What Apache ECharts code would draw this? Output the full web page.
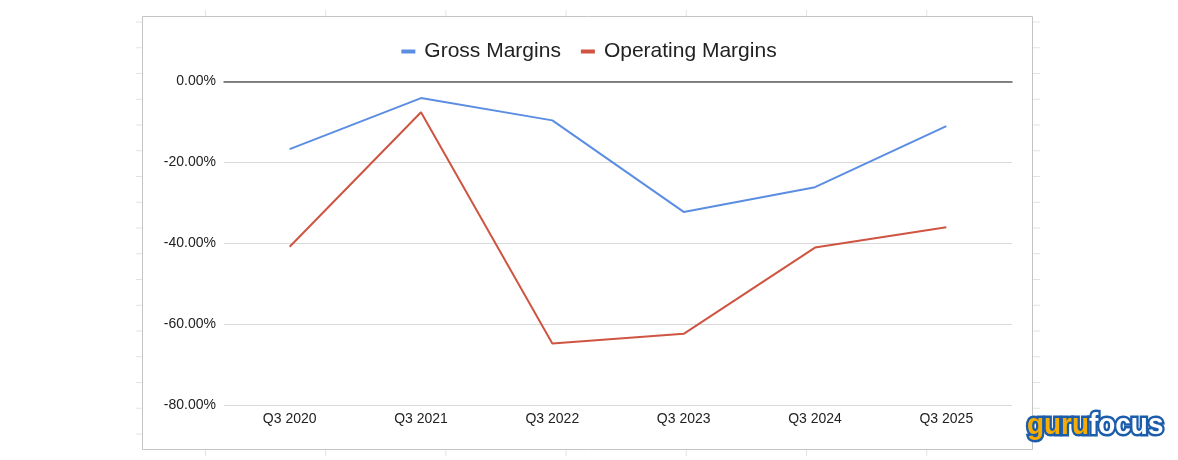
<!DOCTYPE html>
<html>
<head>
<meta charset="utf-8">
<script src="https://cdn.jsdelivr.net/npm/echarts@6/dist/echarts.min.js"></script>
<style>
html,body{margin:0;padding:0;background:#fff;}
#chart{width:1178px;height:460px;}
</style>
</head>
<body>
<div id="chart"></div>
<script>
const categories = ['Q3 2020','Q3 2021','Q3 2022','Q3 2023','Q3 2024','Q3 2025'];
const grossMargins = [-16.7, -4.1, -9.6, -32.2, -26.1, -11.0];
const operatingMargins = [-40.8, -7.6, -64.7, -62.3, -41.0, -36.0];
const yTicks = {min: -80, max: 0, interval: 20};

const chart = echarts.init(document.getElementById('chart'), null, {renderer: 'canvas'});

// decorative spreadsheet cell ticks around the chart frame
const deco = [];
const tickColor = '#e3e3e3';
for (let k = 0; k <= 16; k++) {
  const y = 22 + 25.75 * k;
  deco.push({type: 'line', shape: {x1: 136, y1: y, x2: 142, y2: y}, style: {stroke: tickColor, lineWidth: 1}, silent: true});
  deco.push({type: 'line', shape: {x1: 1033, y1: y, x2: 1040, y2: y}, style: {stroke: tickColor, lineWidth: 1}, silent: true});
}
for (let k = 0; k < 7; k++) {
  const x = 205.5 + 120.2 * k;
  deco.push({type: 'line', shape: {x1: x, y1: 10, x2: x, y2: 16}, style: {stroke: tickColor, lineWidth: 1}, silent: true});
  deco.push({type: 'line', shape: {x1: x, y1: 450, x2: x, y2: 456}, style: {stroke: tickColor, lineWidth: 1}, silent: true});
}
deco.push({type: 'rect', shape: {x: 142.5, y: 16.5, width: 890, height: 433}, style: {fill: 'none', stroke: '#c4c4c4', lineWidth: 1}, silent: true});
const logoFont = '"Liberation Sans", Arial, sans-serif';
deco.push({
  type: 'group', x: 1027, y: 441, scaleX: 0.93, z: 10,
  children: [{
    type: 'text',
    style: {
      x: 0, y: 0,
      verticalAlign: 'bottom',
      rich: {
        g: {fill: '#f6ac00', stroke: '#1b5cab', lineWidth: 5, fontSize: 30, lineHeight: 30, fontWeight: 'bold', fontFamily: logoFont},
        f: {fill: '#ffffff', stroke: '#1b5cab', lineWidth: 5, fontSize: 30, lineHeight: 30, fontWeight: 'bold', fontFamily: logoFont}
      },
      text: '{g|guru}{f|focus}'
    }
  }]
});

const font = '"Liberation Sans", Arial, sans-serif';

chart.setOption({
  animation: false,
  backgroundColor: '#ffffff',
  graphic: deco,
  legend: {
    left: 'center',
    top: 36,
    itemWidth: 14,
    itemHeight: 4,
    itemGap: 20,
    icon: 'rect',
    textStyle: {fontSize: 21, color: '#222', fontFamily: font, padding: [0, 0, 0, 4]},
    data: ['Gross Margins', 'Operating Margins']
  },
  grid: {left: 224, right: 166, top: 81.5, bottom: 54.5, containLabel: false},
  xAxis: [{
    type: 'category',
    data: categories,
    boundaryGap: true,
    position: 'bottom',
    axisLine: {show: false, onZero: false},
    axisTick: {show: false},
    axisLabel: {fontSize: 14, color: '#222', fontFamily: font, margin: 7}
  }, {
    type: 'category',
    data: categories,
    position: 'top',
    axisLine: {show: true, onZero: false, lineStyle: {color: '#5f5f5f', width: 1.5}},
    axisTick: {show: false},
    axisLabel: {show: false}
  }],
  yAxis: {
    type: 'value',
    min: yTicks.min,
    max: yTicks.max,
    interval: yTicks.interval,
    axisLine: {show: false},
    axisTick: {show: false},
    splitLine: {lineStyle: {color: '#d9d9d9', width: 1}},
    axisLabel: {fontSize: 14, color: '#222', fontFamily: font, margin: 8, formatter: v => v.toFixed(2) + '%'}
  },
  series: [{
    name: 'Gross Margins',
    type: 'line',
    data: grossMargins,
    symbol: 'none',
    lineStyle: {width: 2, color: '#5b8ee3'},
    itemStyle: {color: '#5b8ee3'}
  }, {
    name: 'Operating Margins',
    type: 'line',
    data: operatingMargins,
    symbol: 'none',
    lineStyle: {width: 2, color: '#cf5442'},
    itemStyle: {color: '#cf5442'}
  }]
});
</script>
</body>
</html>
